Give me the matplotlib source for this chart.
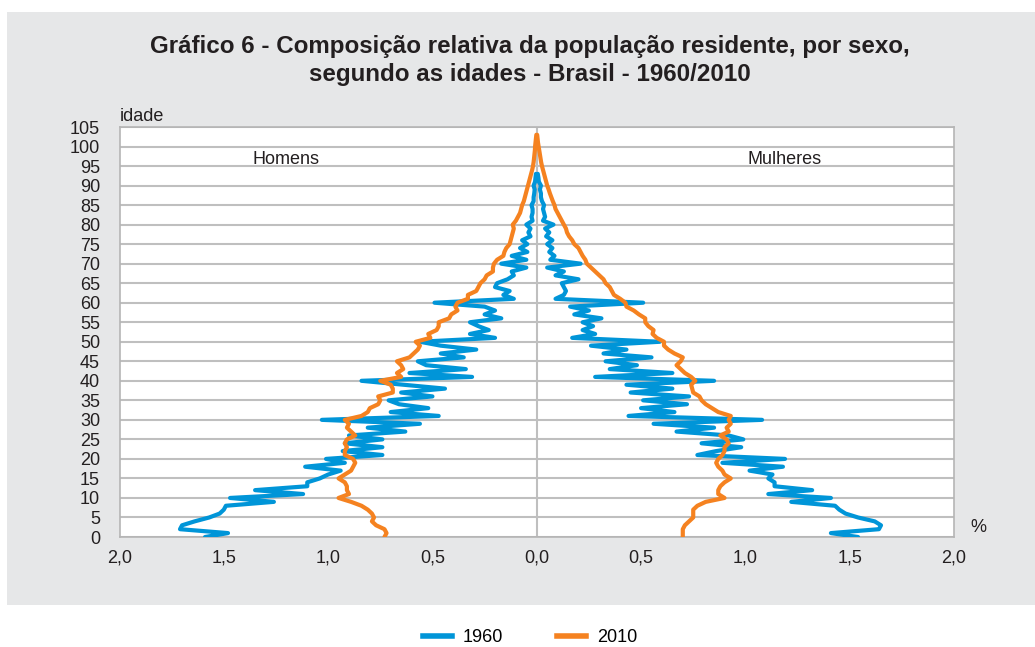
import matplotlib
matplotlib.use("Agg")
import matplotlib.pyplot as plt
from matplotlib.patches import Rectangle
from matplotlib.ticker import FuncFormatter

plt.rcParams['font.family'] = ['Liberation Sans', 'DejaVu Sans']

# Composicao relativa (%) por idade simples
homens_1960 = [1.59, 1.48, 1.71, 1.70, 1.64, 1.57, 1.52, 1.50, 1.49, 1.26,
               1.47, 1.12, 1.35, 1.10, 1.10, 1.04, 1.00, 0.94, 1.11, 0.92,
               1.01, 0.74, 0.93, 0.74, 0.92, 0.74, 0.90, 0.63, 0.81, 0.56,
               1.03, 0.47, 0.70, 0.52, 0.66, 0.71, 0.50, 0.65, 0.44, 0.64,
               0.84, 0.31, 0.61, 0.34, 0.53, 0.57, 0.35, 0.46, 0.29, 0.46,
               0.56, 0.20, 0.32, 0.23, 0.28, 0.32, 0.17, 0.25, 0.20, 0.25,
               0.49, 0.11, 0.16, 0.13, 0.20, 0.19, 0.14, 0.11, 0.12, 0.05,
               0.17, 0.05, 0.12, 0.045, 0.08, 0.045, 0.07, 0.03, 0.04, 0.03,
               0.05, 0.02, 0.025, 0.02, 0.02, 0.025, 0.015, 0.015, 0.012, 0.01,
               0.015, 0.008, 0.006, 0.004]
mulheres_1960 = [1.54, 1.41, 1.64, 1.65, 1.62, 1.54, 1.48, 1.45, 1.43, 1.22,
                 1.41, 1.11, 1.32, 1.14, 1.14, 1.11, 1.13, 1.02, 1.18, 0.89,
                 1.19, 0.77, 0.86, 0.98, 0.79, 0.99, 0.92, 0.67, 0.85, 0.56,
                 1.08, 0.44, 0.66, 0.50, 0.72, 0.51, 0.73, 0.45, 0.65, 0.43,
                 0.85, 0.28, 0.65, 0.35, 0.48, 0.33, 0.55, 0.32, 0.43, 0.26,
                 0.59, 0.17, 0.28, 0.22, 0.27, 0.22, 0.31, 0.18, 0.25, 0.16,
                 0.51, 0.09, 0.13, 0.14, 0.13, 0.12, 0.20, 0.09, 0.13, 0.05,
                 0.21, 0.065, 0.085, 0.06, 0.075, 0.05, 0.075, 0.045, 0.06, 0.04,
                 0.08, 0.03, 0.04, 0.035, 0.03, 0.035, 0.025, 0.02, 0.02, 0.015,
                 0.02, 0.01, 0.008, 0.005]
homens_2010 = [0.73, 0.72, 0.73, 0.77, 0.79, 0.78, 0.79, 0.81, 0.84, 0.89,
               0.95, 0.90, 0.91, 0.91, 0.92, 0.95, 0.92, 0.89, 0.88, 0.87,
               0.88, 0.92, 0.92, 0.91, 0.92, 0.91, 0.87, 0.89, 0.91, 0.90,
               0.92, 0.84, 0.81, 0.80, 0.76, 0.75, 0.76, 0.69, 0.69, 0.70,
               0.75, 0.65, 0.67, 0.64, 0.65, 0.67, 0.61, 0.59, 0.57, 0.56,
               0.58, 0.51, 0.52, 0.48, 0.47, 0.47, 0.42, 0.41, 0.38, 0.39,
               0.38, 0.33, 0.33, 0.29, 0.28, 0.27, 0.25, 0.24, 0.21, 0.21,
               0.205, 0.19, 0.16, 0.155, 0.146, 0.13, 0.125, 0.12, 0.115, 0.11,
               0.115, 0.10, 0.09, 0.08, 0.075, 0.07, 0.062, 0.057, 0.052, 0.047,
               0.042, 0.037, 0.032, 0.027, 0.022, 0.018, 0.015, 0.013, 0.011, 0.009,
               0.008, 0.006, 0.004, 0.002]
mulheres_2010 = [0.70, 0.70, 0.70, 0.71, 0.73, 0.75, 0.75, 0.75, 0.77, 0.81,
                 0.90, 0.87, 0.87, 0.88, 0.90, 0.93, 0.90, 0.89, 0.87, 0.86,
                 0.87, 0.89, 0.90, 0.90, 0.92, 0.91, 0.88, 0.92, 0.91, 0.93,
                 0.92, 0.93, 0.87, 0.84, 0.81, 0.79, 0.78, 0.75, 0.745, 0.74,
                 0.76, 0.74, 0.71, 0.69, 0.67, 0.69, 0.70, 0.66, 0.63, 0.61,
                 0.61, 0.575, 0.555, 0.56, 0.535, 0.52, 0.52, 0.49, 0.465, 0.43,
                 0.425, 0.40, 0.37, 0.36, 0.35, 0.33, 0.32, 0.30, 0.28, 0.26,
                 0.24, 0.233, 0.22, 0.21, 0.20, 0.18, 0.17, 0.155, 0.145, 0.14,
                 0.13, 0.12, 0.11, 0.10, 0.09, 0.085, 0.077, 0.07, 0.063, 0.057,
                 0.05, 0.045, 0.04, 0.035, 0.03, 0.025, 0.021, 0.018, 0.015, 0.012,
                 0.009, 0.006, 0.004, 0.002]

azul = '#0095d8'
laranja = '#f58220'
cinza_fundo = '#e6e7e8'
texto = '#231f20'

fig = plt.figure(figsize=(10.35, 6.47), dpi=100)
fig.patches.append(Rectangle((7 / 1035, 1 - 605 / 647), 1, (605 - 12) / 647,
                             transform=fig.transFigure, facecolor=cinza_fundo,
                             edgecolor='none', zorder=-10))

ax = fig.add_axes([119.5 / 1035, 1 - 537 / 647, 834.5 / 1035, 410 / 647])
ax.set_zorder(1)
ax.set_facecolor('white')

idades_h60 = range(len(homens_1960))
idades_m60 = range(len(mulheres_1960))
idades_h10 = range(len(homens_2010))
idades_m10 = range(len(mulheres_2010))

ax.plot([-v for v in homens_1960], idades_h60, color=azul, lw=3, solid_capstyle='round', zorder=3)
ax.plot(mulheres_1960, idades_m60, color=azul, lw=3, solid_capstyle='round', zorder=3)
ax.plot([-v for v in homens_2010], idades_h10, color=laranja, lw=3, solid_capstyle='round', zorder=4)
ax.plot(mulheres_2010, idades_m10, color=laranja, lw=3, solid_capstyle='round', zorder=4)

ax.set_xlim(-2, 2)
ax.set_ylim(0, 105)
ax.set_xticks([-2, -1.5, -1, -0.5, 0, 0.5, 1, 1.5, 2])
ax.set_yticks(range(0, 106, 5))
ax.xaxis.set_major_formatter(FuncFormatter(lambda v, p: f"{abs(v):.1f}".replace('.', ',')))
ax.tick_params(axis='both', length=0, labelsize=13, colors=texto)
ax.tick_params(axis='y', pad=14)
ax.tick_params(axis='x', pad=9)
ax.grid(axis='y', color='#bfbfbf', lw=1.5)
ax.axvline(0, color='#bfbfbf', lw=1.5, zorder=1)
ax.set_axisbelow(True)
for s in ax.spines.values():
    s.set_color('#b5b5b5')
    s.set_linewidth(1.2)

ax.text(-1.2, 96.8, 'Homens', ha='center', va='center', fontsize=13, color=texto)
ax.text(1.19, 96.8, 'Mulheres', ha='center', va='center', fontsize=13, color=texto)

fig.text(120 / 1035, 1 - 121 / 647, 'idade', ha='left', va='baseline', fontsize=13, color=texto)
fig.text(978 / 1035, 1 - 528 / 647, '%', ha='center', va='center', fontsize=13, color=texto)

fig.text(0.512, 1 - 60.5 / 647,
         'Gráfico 6 - Composição relativa da população residente, por sexo,\n'
         'segundo as idades - Brasil - 1960/2010',
         ha='center', va='center', fontsize=17.4, fontweight='bold',
         color=texto, linespacing=1.28)

l1, = ax.plot([], [], color=azul, lw=4, label='1960')
l2, = ax.plot([], [], color=laranja, lw=4, label='2010')
fig.legend(handles=[l1, l2], loc='center', bbox_to_anchor=(0.512, 1 - 638 / 647),
           ncol=2, frameon=False, fontsize=13, handlelength=1.6,
           columnspacing=3.0, handletextpad=0.6)

fig.savefig('out.png', dpi=100)
